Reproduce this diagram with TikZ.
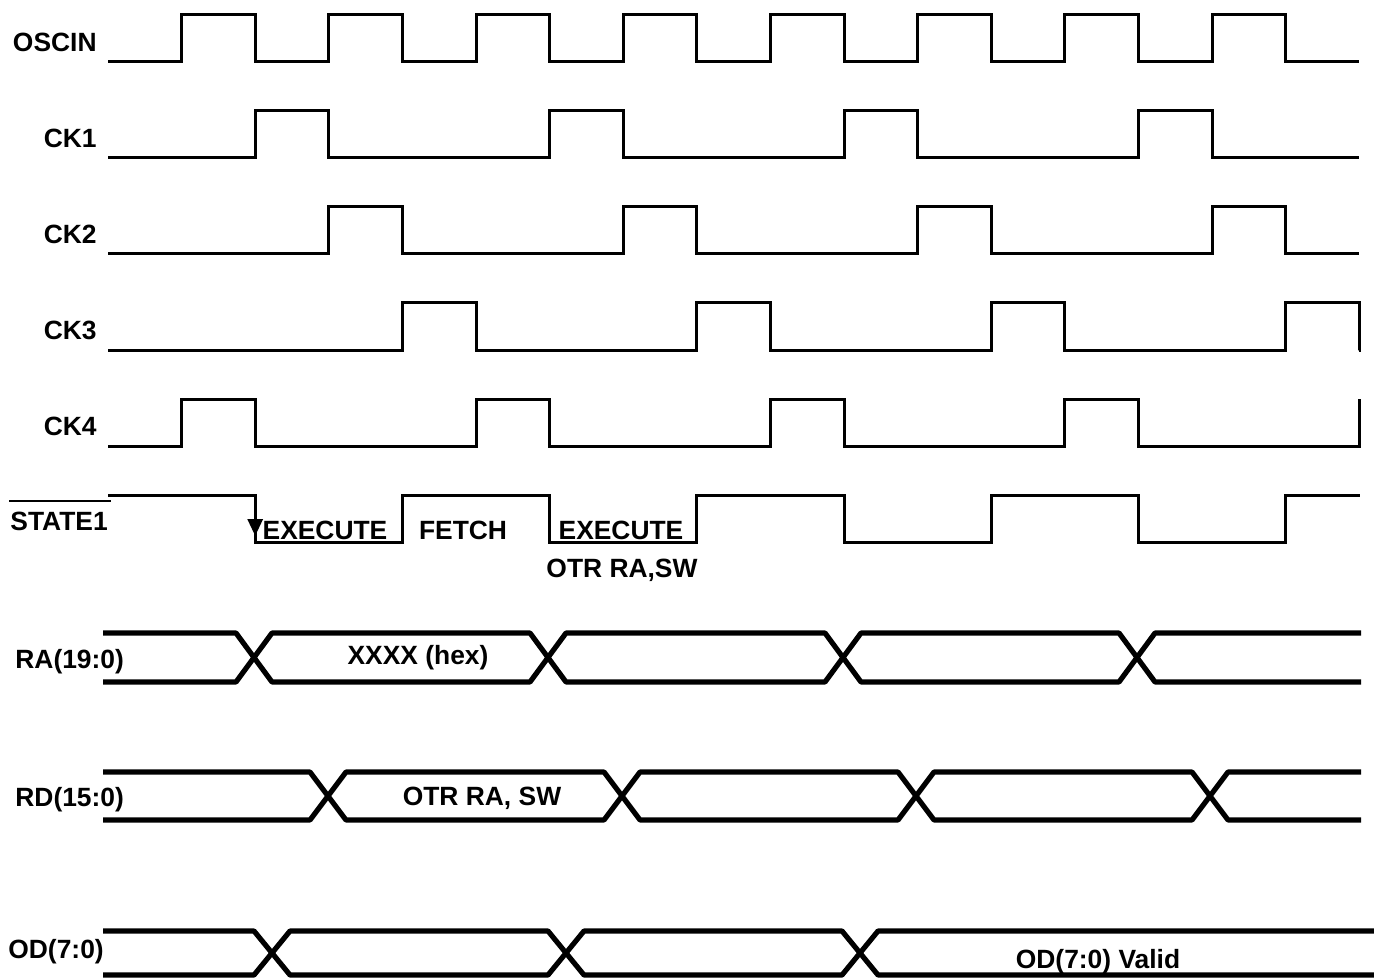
\documentclass[tikz,border=0pt]{standalone}
\usepackage{fontspec}
\setmainfont{Liberation Sans}
\usetikzlibrary{arrows.meta}
\tikzstyle{sig}=[line width=1.5pt]
\tikzstyle{bus}=[line width=2.6pt,line join=round]
\tikzstyle{lbl}=[font=\fontsize{13.2}{15}\selectfont\bfseries,inner sep=0pt]

% clock line: [extra path] {high y} {pulse starts}
\newcommand{\clockline}[3][]{%
  \draw[sig] (108,{#2+47}) \foreach \t in {#3} {
    -- ({108+73.6*\t},{#2+47}) -- ({108+73.6*\t},#2)
    -- ({108+73.6*(\t+1)},#2) -- ({108+73.6*(\t+1)},{#2+47}) } -- (1359.2,{#2+47}) #1;}
% bus line: {top} {bottom} {first cross} {pairs} {last cross} {end x}
\newcommand{\busline}[6]{%
  \draw[bus] (103,#1) -- ({#3-18},#1) -- (#3,{(#1+#2)/2}) -- ({#3-18},#2) -- (103,#2);
  \foreach \a/\b in {#4}
    \draw[bus] (\a,{(#1+#2)/2}) -- ({\a+18},#1) -- ({\b-18},#1) -- (\b,{(#1+#2)/2})
      -- ({\b-18},#2) -- ({\a+18},#2) -- cycle;
  \draw[bus] (#6,#1) -- ({#5+18},#1) -- (#5,{(#1+#2)/2}) -- ({#5+18},#2) -- (#6,#2);}

\begin{document}
\begin{tikzpicture}[x=0.5pt,y=-0.5pt]
\useasboundingbox (0,0) rectangle (1374,978);

% signal names
\foreach \name/\y in {OSCIN/42,CK1/138,CK2/234,CK3/330,CK4/426}
  \node[lbl,anchor=east] (\name) at (97,\y) {\name};
\node[lbl,anchor=west] (state1) at (10,521) {STATE1};
\draw[line width=1.2pt] ([yshift=5pt,xshift=-0.5pt]state1.north west) -- ([yshift=5pt,xshift=1.5pt]state1.north east);
\node[lbl,anchor=west] (ra) at (15,662) {RA(19:0)};
\node[lbl,anchor=west] (rd) at (15,800) {RD(15:0)};
\node[lbl,anchor=west] (od) at (8,952) {OD(7:0)};

% clocks
\clockline{15}{1,3,5,7,9,11,13,15}
\clockline{111}{2,6,10,14}
\clockline{207}{3,7,11,15}
\clockline{303}{4,8,12,16}
\clockline[-- (1359.2,399)]{399}{1,5,9,13}

% state
\draw[sig] (108,495) \foreach \t in {2,6,10,14} {
  -- ({108+73.6*\t},495) -- ({108+73.6*\t},542)
  -- ({108+73.6*(\t+2)},542) -- ({108+73.6*(\t+2)},495) } -- (1360,495);
\draw[sig,-{Triangle[length=8.5pt,width=7.5pt]}] (255.2,505) -- (255.2,536);
\node[lbl] (ex1) at (325,530) {EXECUTE};
\node[lbl] (fetch) at (463,530) {FETCH};
\node[lbl] (ex2) at (621,530) {EXECUTE};
\node[lbl] (otr1) at (622,570) {OTR RA,SW};

% buses
\busline{633}{682}{254}{254/548,548/843,843/1137}{1137}{1361}
\busline{772}{820}{328}{328/622,622/916,916/1210}{1210}{1361}
\busline{931}{975}{272}{272/566,566/860}{860}{1376}
\node[lbl] (rahex) at (418,658) {XXXX (hex)};
\node[lbl] (rdval) at (482,798) {OTR RA, SW};
\node[lbl] (odval) at (1098,962) {OD(7:0) Valid};
\end{tikzpicture}
\end{document}
